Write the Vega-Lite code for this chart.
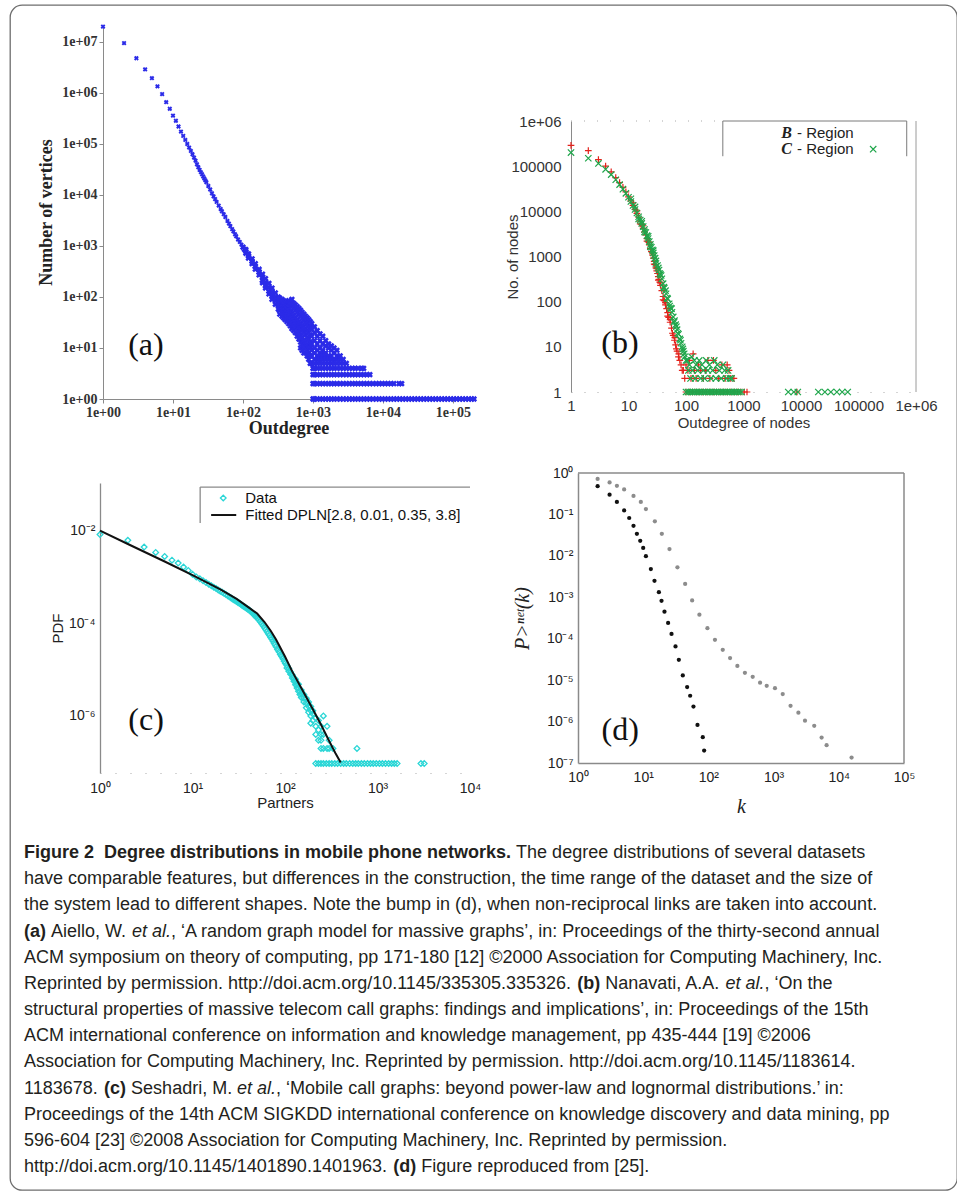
{
"$schema":"https://vega.github.io/schema/vega-lite/v6.json",
"width":947,"height":1185,
"autosize":{"type":"none"},
"padding":{"left":10,"top":5,"right":0,"bottom":5},
"background":"#ffffff",
"config":{"view":{"stroke":"#6e6e6e","strokeWidth":1.3,"cornerRadius":12},"axis":{"grid":false}},
"datasets":{
"a":[
{"x":1,"y":20000000},{"x":2,"y":9500000},{"x":3,"y":4800000},{"x":4,"y":2900000},{"x":5,"y":1950000},{"x":6,"y":1350000},{"x":7,"y":950000},{"x":8,"y":660000},{"x":9,"y":490000},{"x":10,"y":360000},{"x":11,"y":285000},{"x":12,"y":220000},{"x":13,"y":175000},{"x":14,"y":144000},{"x":15,"y":120000},{"x":16,"y":100000},{"x":17,"y":85000},{"x":18,"y":73000},{"x":19,"y":63000},{"x":20,"y":54000},{"x":21,"y":47000},{"x":22,"y":40000},{"x":23,"y":35000},{"x":24,"y":31000},{"x":25,"y":28000},{"x":26,"y":25500},{"x":27,"y":23000},{"x":28,"y":21000},{"x":29,"y":19300},{"x":30,"y":17800},{"x":32,"y":15000},{"x":34,"y":12800},{"x":36,"y":10800},{"x":38,"y":9400},{"x":40,"y":8300},{"x":42,"y":7300},{"x":45,"y":6200},{"x":48,"y":5300},{"x":50,"y":4800},{"x":53,"y":4200},{"x":56,"y":3700},{"x":60,"y":3100},{"x":63,"y":2750},{"x":66,"y":2450},{"x":70,"y":2140},{"x":73,"y":1930},{"x":77,"y":1700},{"x":80,"y":1550},{"x":85,"y":1340},{"x":90,"y":1200},{"x":95,"y":1060},{"x":100,"y":950},{"x":105,"y":860},
{"x":110,"y":780},{"x":110,"y":850},{"x":110,"y":720},
{"x":120,"y":640},{"x":120,"y":700},{"x":120,"y":580},
{"x":135,"y":500},{"x":135,"y":560},{"x":135,"y":450},
{"x":150,"y":400},{"x":150,"y":450},{"x":150,"y":350},
{"x":170,"y":310},{"x":170,"y":350},{"x":170,"y":270},
{"x":190,"y":245},{"x":190,"y":280},{"x":190,"y":210},{"x":190,"y":190},
{"x":210,"y":195},{"x":210,"y":230},{"x":210,"y":165},{"x":210,"y":150},
{"x":235,"y":155},{"x":235,"y":185},{"x":235,"y":130},{"x":235,"y":115},
{"x":260,"y":125},{"x":260,"y":150},{"x":260,"y":105},{"x":260,"y":90},
{"x":290,"y":100},{"x":290,"y":120},{"x":290,"y":85},{"x":290,"y":72},
{"x":320,"y":85},{"x":320,"y":100},{"x":320,"y":70},{"x":320,"y":58},
{"x":335,"y":80},{"x":335,"y":95},{"x":335,"y":66},{"x":335,"y":55},{"x":335,"y":46},
{"x":360,"y":75},{"x":360,"y":90},{"x":360,"y":62},{"x":360,"y":50},{"x":360,"y":42},
{"x":380,"y":70},{"x":380,"y":85},{"x":380,"y":58},{"x":380,"y":48},{"x":380,"y":39},
{"x":400,"y":65},{"x":400,"y":80},{"x":400,"y":55},{"x":400,"y":45},{"x":400,"y":36},
{"x":425,"y":60},{"x":425,"y":76},{"x":425,"y":50},{"x":425,"y":40},{"x":425,"y":33},
{"x":450,"y":55},{"x":450,"y":72},{"x":450,"y":45},{"x":450,"y":36},{"x":450,"y":30},{"x":450,"y":85},
{"x":475,"y":52},{"x":475,"y":68},{"x":475,"y":42},{"x":475,"y":33},{"x":475,"y":27},{"x":475,"y":80},
{"x":500,"y":48},{"x":500,"y":65},{"x":500,"y":38},{"x":500,"y":30},{"x":500,"y":24},{"x":500,"y":90},
{"x":530,"y":44},{"x":530,"y":60},{"x":530,"y":35},{"x":530,"y":27},{"x":530,"y":22},{"x":530,"y":75},
{"x":560,"y":40},{"x":560,"y":55},{"x":560,"y":32},{"x":560,"y":25},{"x":560,"y":20},{"x":560,"y":70},
{"x":595,"y":36},{"x":595,"y":50},{"x":595,"y":29},{"x":595,"y":22},{"x":595,"y":17},{"x":595,"y":65},
{"x":630,"y":33},{"x":630,"y":45},{"x":630,"y":26},{"x":630,"y":20},{"x":630,"y":15},{"x":630,"y":60},
{"x":665,"y":30},{"x":665,"y":42},{"x":665,"y":24},{"x":665,"y":18},{"x":665,"y":13},{"x":665,"y":10},{"x":665,"y":55},
{"x":700,"y":28},{"x":700,"y":38},{"x":700,"y":22},{"x":700,"y":16},{"x":700,"y":12},{"x":700,"y":9},{"x":700,"y":50},
{"x":740,"y":26},{"x":740,"y":35},{"x":740,"y":20},{"x":740,"y":14},{"x":740,"y":11},{"x":740,"y":8},{"x":740,"y":46},
{"x":780,"y":24},{"x":780,"y":32},{"x":780,"y":18},{"x":780,"y":13},{"x":780,"y":10},{"x":780,"y":8},{"x":780,"y":42},
{"x":825,"y":22},{"x":825,"y":30},{"x":825,"y":16},{"x":825,"y":12},{"x":825,"y":9},{"x":825,"y":7},{"x":825,"y":39},
{"x":870,"y":20},{"x":870,"y":27},{"x":870,"y":15},{"x":870,"y":11},{"x":870,"y":8},{"x":870,"y":6},{"x":870,"y":36},
{"x":915,"y":18},{"x":915,"y":25},{"x":915,"y":13},{"x":915,"y":10},{"x":915,"y":7},{"x":915,"y":5},{"x":915,"y":33},
{"x":960,"y":17},{"x":960,"y":23},{"x":960,"y":12},{"x":960,"y":9},{"x":960,"y":7},{"x":960,"y":5},{"x":960,"y":30},
{"x":1000,"y":1},{"x":1000,"y":2},{"x":1000,"y":3},{"x":1000,"y":4},
{"x":1050,"y":14},{"x":1050,"y":20},{"x":1050,"y":10},{"x":1050,"y":8},{"x":1050,"y":6},{"x":1050,"y":5},{"x":1050,"y":4},{"x":1050,"y":3},{"x":1050,"y":2},{"x":1050,"y":1},{"x":1050,"y":26},
{"x":1150,"y":12},{"x":1150,"y":17},{"x":1150,"y":9},{"x":1150,"y":7},{"x":1150,"y":6},{"x":1150,"y":5},{"x":1150,"y":4},{"x":1150,"y":3},{"x":1150,"y":2},{"x":1150,"y":1},{"x":1150,"y":22},
{"x":1260,"y":10},{"x":1260,"y":14},{"x":1260,"y":8},{"x":1260,"y":7},{"x":1260,"y":6},{"x":1260,"y":5},{"x":1260,"y":4},{"x":1260,"y":3},{"x":1260,"y":2},{"x":1260,"y":1},{"x":1260,"y":19},
{"x":1380,"y":9},{"x":1380,"y":12},{"x":1380,"y":8},{"x":1380,"y":7},{"x":1380,"y":6},{"x":1380,"y":5},{"x":1380,"y":4},{"x":1380,"y":3},{"x":1380,"y":2},{"x":1380,"y":1},{"x":1380,"y":17},
{"x":1520,"y":8},{"x":1520,"y":11},{"x":1520,"y":7},{"x":1520,"y":6},{"x":1520,"y":5},{"x":1520,"y":4},{"x":1520,"y":3},{"x":1520,"y":2},{"x":1520,"y":1},{"x":1520,"y":14},
{"x":1670,"y":7},{"x":1670,"y":10},{"x":1670,"y":6},{"x":1670,"y":5},{"x":1670,"y":4},{"x":1670,"y":3},{"x":1670,"y":2},{"x":1670,"y":1},{"x":1670,"y":12},
{"x":1830,"y":7},{"x":1830,"y":9},{"x":1830,"y":6},{"x":1830,"y":5},{"x":1830,"y":4},{"x":1830,"y":3},{"x":1830,"y":2},{"x":1830,"y":1},{"x":1830,"y":11},
{"x":2000,"y":6},{"x":2000,"y":8},{"x":2000,"y":5},{"x":2000,"y":4},{"x":2000,"y":3},{"x":2000,"y":2},{"x":2000,"y":1},{"x":2000,"y":10},
{"x":2200,"y":6},{"x":2200,"y":7},{"x":2200,"y":5},{"x":2200,"y":4},{"x":2200,"y":3},{"x":2200,"y":2},{"x":2200,"y":1},{"x":2200,"y":9},
{"x":2450,"y":6},{"x":2450,"y":7},{"x":2450,"y":5},{"x":2450,"y":4},{"x":2450,"y":3},{"x":2450,"y":2},{"x":2450,"y":1},
{"x":2700,"y":5},{"x":2700,"y":6},{"x":2700,"y":4},{"x":2700,"y":3},{"x":2700,"y":2},{"x":2700,"y":1},
{"x":3000,"y":5},{"x":3000,"y":4},{"x":3000,"y":3},{"x":3000,"y":2},{"x":3000,"y":1},
{"x":3300,"y":4},{"x":3300,"y":3},{"x":3300,"y":2},{"x":3300,"y":1},
{"x":3650,"y":1},{"x":4000,"y":1},{"x":4400,"y":1},{"x":4850,"y":1},{"x":5350,"y":1},{"x":5900,"y":1},{"x":6500,"y":1},{"x":7200,"y":1},{"x":8000,"y":1},{"x":8800,"y":1},{"x":9700,"y":1},{"x":10700,"y":1},{"x":11800,"y":1},{"x":13000,"y":1},{"x":14300,"y":1},{"x":15800,"y":1},{"x":17400,"y":1},{"x":19200,"y":1},{"x":21200,"y":1},{"x":23400,"y":1},{"x":25800,"y":1},{"x":28500,"y":1},{"x":31500,"y":1},{"x":34700,"y":1},{"x":38300,"y":1},{"x":42300,"y":1},{"x":46700,"y":1},{"x":51500,"y":1},{"x":56800,"y":1},{"x":62700,"y":1},{"x":69200,"y":1},{"x":76300,"y":1},{"x":84200,"y":1},{"x":93000,"y":1},{"x":102500,"y":1},{"x":113000,"y":1},{"x":125000,"y":1},{"x":138000,"y":1},{"x":152000,"y":1},{"x":168000,"y":1},{"x":185000,"y":1},{"x":200000,"y":1},
{"x":3650,"y":2},{"x":4000,"y":2},{"x":4400,"y":2},{"x":4850,"y":2},{"x":5350,"y":2},{"x":5900,"y":2},{"x":6500,"y":2},{"x":7200,"y":2},{"x":8000,"y":2},{"x":8800,"y":2},{"x":9700,"y":2},{"x":10700,"y":2},{"x":11800,"y":2},{"x":13000,"y":2},{"x":14300,"y":2},{"x":17000,"y":2},{"x":18500,"y":2},
{"x":3650,"y":3},{"x":4000,"y":3},{"x":4400,"y":3},{"x":4850,"y":3},{"x":5350,"y":3},{"x":5900,"y":3},{"x":6500,"y":3},
{"x":3650,"y":4},{"x":4000,"y":4},{"x":4400,"y":4},{"x":5000,"y":4},{"x":5300,"y":4}
],
"b":[
{"x":1,"y":290000,"s":"B"},{"x":2,"y":220000,"s":"B"},{"x":3,"y":140000,"s":"B"},{"x":4,"y":100000,"s":"B"},{"x":5,"y":75000,"s":"B"},{"x":6,"y":56000,"s":"B"},{"x":7,"y":43000,"s":"B"},{"x":8,"y":34000,"s":"B"},{"x":9,"y":27000,"s":"B"},{"x":10,"y":21000,"s":"B"},{"x":11,"y":17000,"s":"B"},{"x":12,"y":13500,"s":"B"},{"x":13,"y":11000,"s":"B"},{"x":14,"y":9000,"s":"B"},{"x":15,"y":7400,"s":"B"},{"x":16,"y":6100,"s":"B"},{"x":17,"y":5100,"s":"B"},{"x":18,"y":4200,"s":"B"},{"x":19,"y":3500,"s":"B"},{"x":20,"y":3000,"s":"B"},{"x":21,"y":2500,"s":"B"},{"x":22,"y":2100,"s":"B"},{"x":23,"y":1800,"s":"B"},{"x":24,"y":1500,"s":"B"},{"x":25,"y":1280,"s":"B"},{"x":26,"y":1080,"s":"B"},{"x":27,"y":920,"s":"B"},{"x":28,"y":780,"s":"B"},{"x":29,"y":660,"s":"B"},{"x":30,"y":560,"s":"B"},{"x":31,"y":480,"s":"B"},{"x":32,"y":420,"s":"B"},{"x":33,"y":360,"s":"B"},{"x":34,"y":310,"s":"B"},{"x":35,"y":270,"s":"B"},{"x":36,"y":230,"s":"B"},{"x":38,"y":175,"s":"B"},{"x":40,"y":130,"s":"B"},{"x":42,"y":105,"s":"B"},{"x":44,"y":85,"s":"B"},{"x":46,"y":70,"s":"B"},{"x":48,"y":57,"s":"B"},{"x":50,"y":45,"s":"B"},{"x":53,"y":35,"s":"B"},{"x":56,"y":26,"s":"B"},{"x":60,"y":18,"s":"B"},{"x":63,"y":14,"s":"B"},{"x":66,"y":11,"s":"B"},{"x":70,"y":8,"s":"B"},{"x":74,"y":6,"s":"B"},{"x":78,"y":5,"s":"B"},{"x":82,"y":4,"s":"B"},{"x":86,"y":3,"s":"B"},{"x":90,"y":3,"s":"B"},{"x":95,"y":2,"s":"B"},
{"x":12,"y":15500,"s":"B"},{"x":14,"y":10200,"s":"B"},{"x":16,"y":5300,"s":"B"},{"x":18,"y":4800,"s":"B"},{"x":21,"y":2200,"s":"B"},{"x":23,"y":2050,"s":"B"},{"x":26,"y":1200,"s":"B"},{"x":28,"y":680,"s":"B"},{"x":31,"y":540,"s":"B"},{"x":33,"y":300,"s":"B"},{"x":36,"y":260,"s":"B"},{"x":40,"y":110,"s":"B"},{"x":44,"y":95,"s":"B"},{"x":48,"y":48,"s":"B"},{"x":53,"y":40,"s":"B"},{"x":58,"y":20,"s":"B"},{"x":64,"y":16,"s":"B"},{"x":68,"y":9,"s":"B"},{"x":75,"y":7,"s":"B"},
{"x":100,"y":4,"s":"B"},{"x":108,"y":3,"s":"B"},{"x":115,"y":5,"s":"B"},{"x":122,"y":2,"s":"B"},{"x":133,"y":7,"s":"B"},{"x":140,"y":3,"s":"B"},{"x":150,"y":2,"s":"B"},{"x":165,"y":4,"s":"B"},{"x":180,"y":3,"s":"B"},{"x":200,"y":2,"s":"B"},{"x":220,"y":3,"s":"B"},{"x":240,"y":5,"s":"B"},{"x":260,"y":2,"s":"B"},{"x":300,"y":5,"s":"B"},{"x":330,"y":3,"s":"B"},{"x":370,"y":2,"s":"B"},{"x":420,"y":4,"s":"B"},{"x":480,"y":2,"s":"B"},{"x":520,"y":4,"s":"B"},{"x":560,"y":3,"s":"B"},{"x":600,"y":2,"s":"B"},{"x":680,"y":2,"s":"B"},
{"x":100,"y":1,"s":"B"},{"x":115,"y":1,"s":"B"},{"x":130,"y":1,"s":"B"},{"x":150,"y":1,"s":"B"},{"x":170,"y":1,"s":"B"},{"x":195,"y":1,"s":"B"},{"x":225,"y":1,"s":"B"},{"x":260,"y":1,"s":"B"},{"x":300,"y":1,"s":"B"},{"x":340,"y":1,"s":"B"},{"x":390,"y":1,"s":"B"},{"x":450,"y":1,"s":"B"},{"x":520,"y":1,"s":"B"},{"x":600,"y":1,"s":"B"},{"x":690,"y":1,"s":"B"},{"x":790,"y":1,"s":"B"},{"x":900,"y":1,"s":"B"},{"x":1030,"y":1,"s":"B"},{"x":1150,"y":1,"s":"B"},{"x":8500,"y":1,"s":"B"},
{"x":1,"y":200000,"s":"C"},{"x":2,"y":150000,"s":"C"},{"x":3,"y":115000,"s":"C"},{"x":4,"y":85000,"s":"C"},{"x":5,"y":65000,"s":"C"},{"x":6,"y":50000,"s":"C"},{"x":7,"y":39000,"s":"C"},{"x":8,"y":31000,"s":"C"},{"x":9,"y":25000,"s":"C"},{"x":10,"y":20500,"s":"C"},{"x":11,"y":16500,"s":"C"},{"x":12,"y":13500,"s":"C"},{"x":13,"y":11000,"s":"C"},{"x":14,"y":9200,"s":"C"},{"x":15,"y":7600,"s":"C"},{"x":16,"y":6400,"s":"C"},{"x":17,"y":5400,"s":"C"},{"x":18,"y":4600,"s":"C"},{"x":19,"y":3950,"s":"C"},{"x":20,"y":3400,"s":"C"},{"x":21,"y":2900,"s":"C"},{"x":22,"y":2500,"s":"C"},{"x":23,"y":2150,"s":"C"},{"x":24,"y":1850,"s":"C"},{"x":25,"y":1600,"s":"C"},{"x":26,"y":1400,"s":"C"},{"x":27,"y":1200,"s":"C"},{"x":28,"y":1050,"s":"C"},{"x":29,"y":920,"s":"C"},{"x":30,"y":800,"s":"C"},{"x":32,"y":630,"s":"C"},{"x":34,"y":500,"s":"C"},{"x":36,"y":400,"s":"C"},{"x":38,"y":320,"s":"C"},{"x":40,"y":250,"s":"C"},{"x":42,"y":200,"s":"C"},{"x":45,"y":150,"s":"C"},{"x":48,"y":115,"s":"C"},{"x":51,"y":90,"s":"C"},{"x":54,"y":72,"s":"C"},{"x":57,"y":58,"s":"C"},{"x":60,"y":46,"s":"C"},{"x":63,"y":38,"s":"C"},{"x":66,"y":31,"s":"C"},{"x":70,"y":24,"s":"C"},{"x":74,"y":19,"s":"C"},{"x":78,"y":15,"s":"C"},{"x":82,"y":12,"s":"C"},{"x":86,"y":10,"s":"C"},{"x":90,"y":8,"s":"C"},{"x":95,"y":6,"s":"C"},{"x":100,"y":5,"s":"C"},
{"x":11,"y":19000,"s":"C"},{"x":13,"y":12500,"s":"C"},{"x":15,"y":6800,"s":"C"},{"x":17,"y":6000,"s":"C"},{"x":19,"y":3500,"s":"C"},{"x":22,"y":2800,"s":"C"},{"x":24,"y":1650,"s":"C"},{"x":27,"y":1350,"s":"C"},{"x":30,"y":700,"s":"C"},{"x":33,"y":560,"s":"C"},{"x":35,"y":420,"s":"C"},{"x":37,"y":380,"s":"C"},{"x":41,"y":210,"s":"C"},{"x":44,"y":175,"s":"C"},{"x":47,"y":120,"s":"C"},{"x":52,"y":80,"s":"C"},{"x":56,"y":70,"s":"C"},{"x":62,"y":35,"s":"C"},{"x":68,"y":28,"s":"C"},{"x":72,"y":20,"s":"C"},{"x":80,"y":14,"s":"C"},{"x":88,"y":9,"s":"C"},{"x":93,"y":7,"s":"C"},
{"x":105,"y":5,"s":"C"},{"x":110,"y":3,"s":"C"},{"x":115,"y":4,"s":"C"},{"x":120,"y":2,"s":"C"},{"x":125,"y":6,"s":"C"},{"x":130,"y":3,"s":"C"},{"x":140,"y":5,"s":"C"},{"x":145,"y":2,"s":"C"},{"x":150,"y":4,"s":"C"},{"x":160,"y":3,"s":"C"},{"x":170,"y":5,"s":"C"},{"x":180,"y":2,"s":"C"},{"x":190,"y":4,"s":"C"},{"x":200,"y":3,"s":"C"},{"x":210,"y":2,"s":"C"},{"x":225,"y":5,"s":"C"},{"x":240,"y":3,"s":"C"},{"x":255,"y":4,"s":"C"},{"x":270,"y":2,"s":"C"},{"x":290,"y":3,"s":"C"},{"x":310,"y":5,"s":"C"},{"x":330,"y":2,"s":"C"},{"x":350,"y":4,"s":"C"},{"x":380,"y":3,"s":"C"},{"x":410,"y":2,"s":"C"},{"x":440,"y":4,"s":"C"},{"x":470,"y":3,"s":"C"},{"x":500,"y":2,"s":"C"},{"x":540,"y":3,"s":"C"},{"x":580,"y":2,"s":"C"},{"x":620,"y":2,"s":"C"},
{"x":100,"y":1,"s":"C"},{"x":108,"y":1,"s":"C"},{"x":116,"y":1,"s":"C"},{"x":125,"y":1,"s":"C"},{"x":135,"y":1,"s":"C"},{"x":145,"y":1,"s":"C"},{"x":156,"y":1,"s":"C"},{"x":168,"y":1,"s":"C"},{"x":181,"y":1,"s":"C"},{"x":195,"y":1,"s":"C"},{"x":210,"y":1,"s":"C"},{"x":226,"y":1,"s":"C"},{"x":243,"y":1,"s":"C"},{"x":262,"y":1,"s":"C"},{"x":282,"y":1,"s":"C"},{"x":304,"y":1,"s":"C"},{"x":327,"y":1,"s":"C"},{"x":352,"y":1,"s":"C"},{"x":379,"y":1,"s":"C"},{"x":408,"y":1,"s":"C"},{"x":440,"y":1,"s":"C"},{"x":474,"y":1,"s":"C"},{"x":510,"y":1,"s":"C"},{"x":550,"y":1,"s":"C"},{"x":590,"y":1,"s":"C"},{"x":630,"y":1,"s":"C"},{"x":680,"y":1,"s":"C"},{"x":730,"y":1,"s":"C"},{"x":790,"y":1,"s":"C"},{"x":850,"y":1,"s":"C"},{"x":920,"y":1,"s":"C"},{"x":6000,"y":1,"s":"C"},{"x":7500,"y":1,"s":"C"},{"x":8800,"y":1,"s":"C"},{"x":20000,"y":1,"s":"C"},{"x":26000,"y":1,"s":"C"},{"x":33000,"y":1,"s":"C"},{"x":42000,"y":1,"s":"C"},{"x":52000,"y":1,"s":"C"},{"x":65000,"y":1,"s":"C"}
],
"c":[
{"x":1,"y":0.008},{"x":2,"y":0.006},{"x":3,"y":0.0043},{"x":4,"y":0.0033},{"x":5,"y":0.0027},{"x":6,"y":0.00225},{"x":7,"y":0.00195},{"x":8,"y":0.0016},{"x":9,"y":0.00135},{"x":10,"y":0.00112},{"x":11,"y":0.00098},{"x":12,"y":0.00089},{"x":13,"y":0.00081},{"x":14,"y":0.00074},{"x":15,"y":0.00068},{"x":16,"y":0.00063},{"x":17,"y":0.00059},{"x":18,"y":0.00055},{"x":19,"y":0.00051},{"x":20,"y":0.00048},{"x":21,"y":0.00046},{"x":22,"y":0.00043},{"x":23,"y":0.00041},{"x":24,"y":0.000385},{"x":25,"y":0.000365},{"x":26,"y":0.00035},{"x":27,"y":0.00033},{"x":28,"y":0.000315},{"x":29,"y":0.0003},{"x":30,"y":0.00029},{"x":31,"y":0.000275},{"x":32,"y":0.000265},{"x":33,"y":0.000255},{"x":34,"y":0.000245},{"x":35,"y":0.000235},{"x":36,"y":0.000225},{"x":37,"y":0.000218},{"x":38,"y":0.00021},{"x":39,"y":0.000203},{"x":40,"y":0.000196},{"x":41,"y":0.00019},{"x":42,"y":0.000182},{"x":43,"y":0.000175},{"x":44,"y":0.000168},{"x":45,"y":0.00016},{"x":46,"y":0.000153},{"x":47,"y":0.000147},{"x":48,"y":0.00014},{"x":49,"y":0.000134},{"x":50,"y":0.000128},{"x":52,"y":0.000117},{"x":54,"y":0.000106},{"x":56,"y":0.000096},{"x":58,"y":0.000087},{"x":60,"y":0.000079},{"x":62,"y":0.000072},{"x":64,"y":0.000065},{"x":66,"y":0.000059},{"x":68,"y":0.000054},{"x":70,"y":0.000049},{"x":72,"y":0.000045},{"x":74,"y":0.000041},{"x":76,"y":0.000037},{"x":78,"y":0.000034},{"x":80,"y":0.000031},{"x":83,"y":0.000027},{"x":86,"y":0.000024},{"x":89,"y":0.000021},{"x":92,"y":0.000019},{"x":95,"y":0.000017},{"x":98,"y":0.000015},{"x":101,"y":0.0000135},
{"x":105,"y":0.0000122},{"x":105,"y":0.0000108},{"x":110,"y":0.0000105},{"x":110,"y":0.0000092},{"x":115,"y":0.0000088},{"x":115,"y":0.0000079},{"x":120,"y":0.0000076},{"x":120,"y":0.0000066},{"x":125,"y":0.0000064},{"x":125,"y":0.0000056},{"x":130,"y":0.0000055},{"x":130,"y":0.0000047},{"x":130,"y":0.0000062},{"x":135,"y":0.0000047},{"x":135,"y":0.000004},{"x":140,"y":0.000004},{"x":140,"y":0.0000034},{"x":140,"y":0.0000048},{"x":145,"y":0.0000034},{"x":145,"y":0.0000029},{"x":150,"y":0.000003},{"x":150,"y":0.0000025},{"x":150,"y":0.0000036},{"x":160,"y":0.0000024},{"x":160,"y":0.000002},{"x":160,"y":0.0000029},{"x":170,"y":0.0000019},{"x":170,"y":0.0000015},{"x":170,"y":0.0000024},{"x":180,"y":0.0000016},{"x":180,"y":0.0000012},{"x":180,"y":0.000002},{"x":190,"y":0.0000013},{"x":190,"y":0.000001},{"x":190,"y":0.0000016},{"x":190,"y":0.0000007},{"x":200,"y":0.0000011},{"x":200,"y":0.0000008},{"x":200,"y":0.0000013},{"x":215,"y":0.0000009},{"x":215,"y":0.0000006},{"x":215,"y":0.0000004},{"x":230,"y":0.0000008},{"x":230,"y":0.0000005},{"x":230,"y":0.0000003},{"x":245,"y":0.0000006},{"x":245,"y":0.0000004},{"x":245,"y":0.0000003},{"x":245,"y":0.0000002},{"x":260,"y":0.000001},{"x":260,"y":0.0000004},{"x":260,"y":0.0000002},{"x":285,"y":0.0000006},{"x":285,"y":0.0000002},{"x":300,"y":0.0000003},{"x":300,"y":0.0000002},{"x":330,"y":0.0000002},{"x":600,"y":0.0000002},
{"x":215,"y":0.000000095},{"x":230,"y":0.000000095},{"x":245,"y":0.000000095},{"x":260,"y":0.000000095},{"x":280,"y":0.000000095},{"x":300,"y":0.000000095},{"x":320,"y":0.000000095},{"x":345,"y":0.000000095},{"x":370,"y":0.000000095},{"x":400,"y":0.000000095},{"x":430,"y":0.000000095},{"x":460,"y":0.000000095},{"x":500,"y":0.000000095},{"x":540,"y":0.000000095},{"x":580,"y":0.000000095},{"x":620,"y":0.000000095},{"x":670,"y":0.000000095},{"x":720,"y":0.000000095},{"x":780,"y":0.000000095},{"x":840,"y":0.000000095},{"x":900,"y":0.000000095},{"x":970,"y":0.000000095},{"x":1050,"y":0.000000095},{"x":1130,"y":0.000000095},{"x":1220,"y":0.000000095},{"x":1320,"y":0.000000095},{"x":1420,"y":0.000000095},{"x":1520,"y":0.000000095},{"x":1630,"y":0.000000095},{"x":2950,"y":0.000000095},{"x":3200,"y":0.000000095}
],
"cfit":[
{"x":1,"y":0.0097},{"x":2,"y":0.005},{"x":5,"y":0.0021},{"x":10,"y":0.00107},{"x":20,"y":0.00053},{"x":30,"y":0.00033},{"x":40,"y":0.00022},{"x":50,"y":0.00016},{"x":60,"y":0.000105},{"x":70,"y":0.000068},{"x":80,"y":0.000044},{"x":100,"y":0.000019},{"x":120,"y":0.000009},{"x":150,"y":0.000004},{"x":200,"y":0.0000014},{"x":250,"y":0.0000006},{"x":300,"y":0.00000029},{"x":350,"y":0.00000016},{"x":400,"y":0.0000001}
],
"d":[
{"x":2,"y":0.48,"s":"reciprocal"},{"x":3.05,"y":0.3,"s":"reciprocal"},{"x":3.95,"y":0.2,"s":"reciprocal"},{"x":5.1,"y":0.125,"s":"reciprocal"},{"x":6.1,"y":0.082,"s":"reciprocal"},{"x":7.1,"y":0.053,"s":"reciprocal"},{"x":8,"y":0.034,"s":"reciprocal"},{"x":9,"y":0.023,"s":"reciprocal"},{"x":10,"y":0.0155,"s":"reciprocal"},{"x":11,"y":0.0098,"s":"reciprocal"},{"x":13.1,"y":0.0048,"s":"reciprocal"},{"x":14.9,"y":0.0025,"s":"reciprocal"},{"x":17.4,"y":0.00133,"s":"reciprocal"},{"x":19.1,"y":0.00082,"s":"reciprocal"},{"x":21.2,"y":0.00045,"s":"reciprocal"},{"x":24.1,"y":0.00024,"s":"reciprocal"},{"x":27.2,"y":0.00013,"s":"reciprocal"},{"x":31.3,"y":0.000065,"s":"reciprocal"},{"x":35.2,"y":0.000031,"s":"reciprocal"},{"x":40.5,"y":0.000013,"s":"reciprocal"},{"x":47.2,"y":0.0000068,"s":"reciprocal"},{"x":52.5,"y":0.0000042,"s":"reciprocal"},{"x":59,"y":0.0000023,"s":"reciprocal"},{"x":68,"y":0.00000083,"s":"reciprocal"},{"x":82,"y":0.00000042,"s":"reciprocal"},{"x":86,"y":0.0000002,"s":"reciprocal"},
{"x":2,"y":0.72,"s":"all"},{"x":3.05,"y":0.59,"s":"all"},{"x":3.95,"y":0.49,"s":"all"},{"x":5.1,"y":0.4,"s":"all"},{"x":7.1,"y":0.28,"s":"all"},{"x":9.2,"y":0.2,"s":"all"},{"x":11,"y":0.135,"s":"all"},{"x":15.1,"y":0.068,"s":"all"},{"x":19.3,"y":0.034,"s":"all"},{"x":25.3,"y":0.0146,"s":"all"},{"x":33.5,"y":0.0053,"s":"all"},{"x":44,"y":0.0021,"s":"all"},{"x":56.3,"y":0.00084,"s":"all"},{"x":72.8,"y":0.00038,"s":"all"},{"x":96.6,"y":0.00018,"s":"all"},{"x":126,"y":0.000094,"s":"all"},{"x":166,"y":0.000054,"s":"all"},{"x":215,"y":0.000034,"s":"all"},{"x":278,"y":0.000022,"s":"all"},{"x":363,"y":0.000015,"s":"all"},{"x":478,"y":0.000012,"s":"all"},{"x":620,"y":0.0000087,"s":"all"},{"x":784,"y":0.0000073,"s":"all"},{"x":1050,"y":0.0000064,"s":"all"},{"x":1380,"y":0.0000046,"s":"all"},{"x":1820,"y":0.0000024,"s":"all"},{"x":2400,"y":0.00000164,"s":"all"},{"x":3030,"y":0.00000105,"s":"all"},{"x":4200,"y":0.00000079,"s":"all"},{"x":5450,"y":0.00000041,"s":"all"},{"x":6500,"y":0.00000027,"s":"all"},{"x":15700,"y":0.000000135,"s":"all"}
],
"caption":[
{"seg":0,"line":1,"role":"head","text":"Figure 2\u00a0 Degree distributions in mobile phone networks."},
{"seg":1,"line":1,"role":"body","text":"The degree distributions of several datasets"},
{"seg":2,"line":2,"role":"body","text":"have comparable features, but differences in the construction, the time range of the dataset and the size of"},
{"seg":3,"line":3,"role":"body","text":"the system lead to different shapes. Note the bump in (d), when non-reciprocal links are taken into account."},
{"seg":4,"line":4,"role":"tag","text":"(a)"},
{"seg":5,"line":4,"role":"body","text":"Aiello, W."},
{"seg":6,"line":4,"role":"etal","text":"et al."},
{"seg":7,"line":4,"role":"body","text":", ‘A random graph model for massive graphs’, in: Proceedings of the thirty-second annual"},
{"seg":8,"line":5,"role":"body","text":"ACM symposium on theory of computing, pp 171-180 [12] ©2000 Association for Computing Machinery, Inc."},
{"seg":9,"line":6,"role":"body","text":"Reprinted by permission. http://doi.acm.org/10.1145/335305.335326."},
{"seg":10,"line":6,"role":"tag","text":"(b)"},
{"seg":11,"line":6,"role":"body","text":"Nanavati, A.A."},
{"seg":12,"line":6,"role":"etal","text":"et al."},
{"seg":13,"line":6,"role":"body","text":", ‘On the"},
{"seg":14,"line":7,"role":"body","text":"structural properties of massive telecom call graphs: findings and implications’, in: Proceedings of the 15th"},
{"seg":15,"line":8,"role":"body","text":"ACM international conference on information and knowledge management, pp 435-444 [19] ©2006"},
{"seg":16,"line":9,"role":"body","text":"Association for Computing Machinery, Inc. Reprinted by permission. http://doi.acm.org/10.1145/1183614."},
{"seg":17,"line":10,"role":"body","text":"1183678."},
{"seg":18,"line":10,"role":"tag","text":"(c)"},
{"seg":19,"line":10,"role":"body","text":"Seshadri, M."},
{"seg":20,"line":10,"role":"etal","text":"et al."},
{"seg":21,"line":10,"role":"body","text":", ‘Mobile call graphs: beyond power-law and lognormal distributions.’ in:"},
{"seg":22,"line":11,"role":"body","text":"Proceedings of the 14th ACM SIGKDD international conference on knowledge discovery and data mining, pp"},
{"seg":23,"line":12,"role":"body","text":"596-604 [23] ©2008 Association for Computing Machinery, Inc. Reprinted by permission."},
{"seg":24,"line":13,"role":"body","text":"http://doi.acm.org/10.1145/1401890.1401963."},
{"seg":25,"line":13,"role":"tag","text":"(d)"},
{"seg":26,"line":13,"role":"body","text":"Figure reproduced from [25]."}
]
},
"resolve":{"scale":{"x":"independent","y":"independent"},"axis":{"x":"independent","y":"independent"}},
"layer":[
 {"data":{"name":"a"},"transform":[{"filter":"datum.x < 100"}],"mark":{"type":"point","shape":"cross","angle":45,"size":24,"filled":true,"color":"#2b2be8","opacity":1},
  "encoding":{
   "x":{"field":"x","type":"quantitative","scale":{"type":"log","domain":[1,200000],"range":[93,464],"nice":false},
    "axis":{"orient":"bottom","offset":-791,"values":[1,10,100,1000,10000,100000],"labelExpr":"'1e+0' + round(log(datum.value)/LN10)","labelFont":"Liberation Serif","labelFontWeight":"bold","labelFontSize":14,"labelColor":"#333333","labelPadding":2,"labelFlush":false,"labelOverlap":false,"tickSize":4,"tickColor":"#8a8a8a","domainColor":"#8a8a8a","title":"Outdegree","titleFont":"Liberation Serif","titleFontWeight":"bold","titleFontSize":18,"titleColor":"#222222","titlePadding":0}},
   "y":{"field":"y","type":"quantitative","scale":{"type":"log","domain":[1,21500000],"range":[394,20],"nice":false},
    "axis":{"orient":"left","offset":-93,"values":[1,10,100,1000,10000,100000,1000000,10000000],"labelExpr":"'1e+0' + round(log(datum.value)/LN10)","labelFont":"Liberation Serif","labelFontWeight":"bold","labelFontSize":14,"labelColor":"#333333","labelPadding":2,"labelFlush":false,"labelOverlap":false,"tickSize":4,"tickColor":"#8a8a8a","domainColor":"#8a8a8a","title":"Number of vertices","titleFont":"Liberation Serif","titleFontWeight":"bold","titleFontSize":18,"titleColor":"#222222","titlePadding":6}}
  }},
 {"data":{"name":"a"},"transform":[{"filter":"datum.x >= 100"}],"mark":{"type":"point","shape":"cross","angle":45,"size":40,"filled":true,"color":"#2b2be8","opacity":1},
  "encoding":{
   "x":{"field":"x","type":"quantitative","scale":{"type":"log","domain":[1,200000],"range":[93,464],"nice":false},"axis":null},
   "y":{"field":"y","type":"quantitative","scale":{"type":"log","domain":[1,21500000],"range":[394,20],"nice":false},"axis":null}}},
 {"data":{"values":[{}]},"mark":{"type":"text","text":"(a)","font":"Liberation Serif","fontSize":32,"align":"center","baseline":"middle","color":"#111111"},
  "encoding":{"x":{"datum":4.1,"type":"quantitative","scale":{"type":"log","domain":[1,200000],"range":[93,464],"nice":false},"axis":null},
   "y":{"datum":11.4,"type":"quantitative","scale":{"type":"log","domain":[1,21500000],"range":[394,20],"nice":false},"axis":null}}},
 {"data":{"name":"b"},"transform":[{"filter":"datum.s == 'B'"}],"mark":{"type":"point","shape":"M-1,0L1,0M0,-1L0,1","size":45,"filled":false,"strokeWidth":1.2,"color":"#e3231c","opacity":1},
  "encoding":{
   "x":{"field":"x","type":"quantitative","scale":{"type":"log","domain":[1,1000000],"range":[561,906],"nice":false},
    "axis":{"orient":"bottom","offset":-798,"values":[1,10,100,1000,10000,100000,1000000],"labelExpr":"datum.value >= 999999 ? '1e+06' : format(datum.value, 'd')","labelFont":"Liberation Sans","labelFontSize":15,"labelColor":"#333333","labelPadding":6,"labelFlush":false,"labelOverlap":false,"tickSize":0,"domainColor":"#aaaaaa","domainDash":[1,12],"title":"Outdegree of nodes","titleFont":"Liberation Sans","titleFontWeight":"normal","titleFontSize":15,"titleColor":"#333333","titlePadding":2}},
   "y":{"field":"y","type":"quantitative","scale":{"type":"log","domain":[1,1000000],"range":[387,116],"nice":false},
    "axis":{"orient":"left","offset":-561,"values":[1,10,100,1000,10000,100000,1000000],"labelExpr":"datum.value >= 999999 ? '1e+06' : format(datum.value, 'd')","labelFont":"Liberation Sans","labelFontSize":15,"labelColor":"#333333","labelPadding":10,"labelFlush":false,"labelOverlap":false,"tickSize":0,"domainColor":"#8a8a8a","title":"No. of nodes","titleFont":"Liberation Sans","titleFontWeight":"normal","titleFontSize":15,"titleColor":"#333333","titlePadding":-10}}
  }},
 {"data":{"name":"b"},"transform":[{"filter":"datum.s == 'C'"}],"mark":{"type":"point","shape":"M-1,-1L1,1M-1,1L1,-1","size":40,"filled":false,"strokeWidth":1.2,"color":"#1fa64b","opacity":1},
  "encoding":{
   "x":{"field":"x","type":"quantitative","scale":{"type":"log","domain":[1,1000000],"range":[561,906],"nice":false},"axis":null},
   "y":{"field":"y","type":"quantitative","scale":{"type":"log","domain":[1,1000000],"range":[387,116],"nice":false},"axis":null}}},
 {"data":{"values":[{}]},"mark":{"type":"rule","color":"#9a9a9a","strokeWidth":1},
  "encoding":{"x":{"datum":1000000,"type":"quantitative","scale":{"type":"log","domain":[1,1000000],"range":[561,906],"nice":false},"axis":null},
   "y":{"datum":1,"type":"quantitative","scale":{"type":"log","domain":[1,1000000],"range":[387,116],"nice":false},"axis":null},"y2":{"datum":1000000}}},
 {"data":{"values":[{}]},"mark":{"type":"rule","color":"#aaaaaa","strokeWidth":1,"strokeDash":[1,12]},
  "encoding":{"x":{"datum":1,"type":"quantitative","scale":{"type":"log","domain":[1,1000000],"range":[561,906],"nice":false},"axis":null},"x2":{"datum":437},
   "y":{"datum":1000000,"type":"quantitative","scale":{"type":"log","domain":[1,1000000],"range":[387,116],"nice":false},"axis":null}}},
 {"data":{"values":[{}]},"mark":{"type":"rule","color":"#7a7a7a","strokeWidth":1},
  "encoding":{"x":{"datum":437,"type":"quantitative","scale":{"type":"log","domain":[1,1000000],"range":[561,906],"nice":false},"axis":null},"x2":{"datum":690000},
   "y":{"datum":1000000,"type":"quantitative","scale":{"type":"log","domain":[1,1000000],"range":[387,116],"nice":false},"axis":null}}},
 {"data":{"values":[{}]},"mark":{"type":"rule","color":"#7a7a7a","strokeWidth":1},
  "encoding":{"x":{"datum":437,"type":"quantitative","scale":{"type":"log","domain":[1,1000000],"range":[561,906],"nice":false},"axis":null},
   "y":{"datum":166000,"type":"quantitative","scale":{"type":"log","domain":[1,1000000],"range":[387,116],"nice":false},"axis":null},"y2":{"datum":1000000}}},
 {"data":{"values":[{}]},"mark":{"type":"rule","color":"#7a7a7a","strokeWidth":1},
  "encoding":{"x":{"datum":690000,"type":"quantitative","scale":{"type":"log","domain":[1,1000000],"range":[561,906],"nice":false},"axis":null},
   "y":{"datum":166000,"type":"quantitative","scale":{"type":"log","domain":[1,1000000],"range":[387,116],"nice":false},"axis":null},"y2":{"datum":1000000}}},
 {"data":{"values":[{}]},"mark":{"type":"text","text":"B","font":"Liberation Serif","fontWeight":"bold","fontStyle":"italic","fontSize":16,"align":"right","baseline":"middle","color":"#222222"},
  "encoding":{"x":{"datum":6970,"type":"quantitative","scale":{"type":"log","domain":[1,1000000],"range":[561,906],"nice":false},"axis":null},
   "y":{"datum":537000,"type":"quantitative","scale":{"type":"log","domain":[1,1000000],"range":[387,116],"nice":false},"axis":null}}},
 {"data":{"values":[{}]},"mark":{"type":"text","text":"C","font":"Liberation Serif","fontWeight":"bold","fontStyle":"italic","fontSize":16,"align":"right","baseline":"middle","color":"#222222"},
  "encoding":{"x":{"datum":6970,"type":"quantitative","scale":{"type":"log","domain":[1,1000000],"range":[561,906],"nice":false},"axis":null},
   "y":{"datum":238000,"type":"quantitative","scale":{"type":"log","domain":[1,1000000],"range":[387,116],"nice":false},"axis":null}}},
 {"data":{"values":[{}]},"mark":{"type":"text","text":"- Region","font":"Liberation Sans","fontSize":15,"align":"left","baseline":"middle","color":"#222222"},
  "encoding":{"x":{"datum":8520,"type":"quantitative","scale":{"type":"log","domain":[1,1000000],"range":[561,906],"nice":false},"axis":null},
   "y":{"datum":537000,"type":"quantitative","scale":{"type":"log","domain":[1,1000000],"range":[387,116],"nice":false},"axis":null}}},
 {"data":{"values":[{}]},"mark":{"type":"text","text":"- Region","font":"Liberation Sans","fontSize":15,"align":"left","baseline":"middle","color":"#222222"},
  "encoding":{"x":{"datum":8520,"type":"quantitative","scale":{"type":"log","domain":[1,1000000],"range":[561,906],"nice":false},"axis":null},
   "y":{"datum":238000,"type":"quantitative","scale":{"type":"log","domain":[1,1000000],"range":[387,116],"nice":false},"axis":null}}},
 {"data":{"values":[{}]},"mark":{"type":"point","shape":"M-1,-1L1,1M-1,1L1,-1","size":40,"filled":false,"strokeWidth":1.2,"color":"#1fa64b","opacity":1},
  "encoding":{"x":{"datum":180000,"type":"quantitative","scale":{"type":"log","domain":[1,1000000],"range":[561,906],"nice":false},"axis":null},
   "y":{"datum":238000,"type":"quantitative","scale":{"type":"log","domain":[1,1000000],"range":[387,116],"nice":false},"axis":null}}},
 {"data":{"values":[{}]},"mark":{"type":"text","text":"(b)","font":"Liberation Serif","fontSize":32,"align":"center","baseline":"middle","color":"#111111"},
  "encoding":{"x":{"datum":7.1,"type":"quantitative","scale":{"type":"log","domain":[1,1000000],"range":[561,906],"nice":false},"axis":null},
   "y":{"datum":12.1,"type":"quantitative","scale":{"type":"log","domain":[1,1000000],"range":[387,116],"nice":false},"axis":null}}},
 {"data":{"name":"c"},"mark":{"type":"point","shape":"diamond","size":32,"filled":false,"strokeWidth":1.3,"color":"#2ad6d6","opacity":1},
  "encoding":{
   "x":{"field":"x","type":"quantitative","scale":{"type":"log","domain":[1,10000],"range":[90,460],"nice":false},
    "axis":{"orient":"bottom","offset":-417,"values":[1,10,100,1000,10000],"labelExpr":"['10⁰','10¹','10²','10³','10⁴','10⁵'][round(log(datum.value)/LN10)]","labelFont":"Liberation Sans","labelFontSize":14,"labelColor":"#222222","labelPadding":8,"labelFlush":false,"labelOverlap":false,"tickSize":0,"domainColor":"#aaaaaa","domainDash":[1,14],"title":"Partners","titleFont":"Liberation Sans","titleFontWeight":"normal","titleFontSize":15,"titleColor":"#222222","titlePadding":0}},
   "y":{"field":"y","type":"quantitative","scale":{"type":"log","domain":[5.94e-8,0.1026],"range":[768,478],"nice":false},
    "axis":{"orient":"left","offset":-90,"values":[0.000001,0.0001,0.01],"labelExpr":"['10⁻⁷','10⁻⁶','10⁻⁵','10⁻⁴','10⁻³','10⁻²','10⁻¹','10⁰'][round(log(datum.value)/LN10)+7]","labelFont":"Liberation Sans","labelFontSize":14,"labelColor":"#222222","labelPadding":5,"labelFlush":false,"labelOverlap":false,"tickSize":0,"domainColor":"#8a8a8a","domainWidth":1.3,"title":"PDF","titleFont":"Liberation Sans","titleFontWeight":"normal","titleFontSize":15,"titleColor":"#222222","titlePadding":3}}
  }},
 {"data":{"name":"cfit"},"mark":{"type":"line","color":"#111111","strokeWidth":2},
  "encoding":{
   "x":{"field":"x","type":"quantitative","scale":{"type":"log","domain":[1,10000],"range":[90,460],"nice":false},"axis":null},
   "y":{"field":"y","type":"quantitative","scale":{"type":"log","domain":[5.94e-8,0.1026],"range":[768,478],"nice":false},"axis":null}}},
 {"data":{"values":[{}]},"mark":{"type":"rule","color":"#8a8a8a","strokeWidth":1.3},
  "encoding":{"x":{"datum":12.1,"type":"quantitative","scale":{"type":"log","domain":[1,10000],"range":[90,460],"nice":false},"axis":null},"x2":{"datum":10000},
   "y":{"datum":0.084,"type":"quantitative","scale":{"type":"log","domain":[5.94e-8,0.1026],"range":[768,478],"nice":false},"axis":null}}},
 {"data":{"values":[{}]},"mark":{"type":"rule","color":"#8a8a8a","strokeWidth":1.3},
  "encoding":{"x":{"datum":12.1,"type":"quantitative","scale":{"type":"log","domain":[1,10000],"range":[90,460],"nice":false},"axis":null},
   "y":{"datum":0.0141,"type":"quantitative","scale":{"type":"log","domain":[5.94e-8,0.1026],"range":[768,478],"nice":false},"axis":null},"y2":{"datum":0.084}}},
 {"data":{"values":[{}]},"mark":{"type":"point","shape":"diamond","size":32,"filled":false,"strokeWidth":1.3,"color":"#2ad6d6","opacity":1},
  "encoding":{"x":{"datum":21.5,"type":"quantitative","scale":{"type":"log","domain":[1,10000],"range":[90,460],"nice":false},"axis":null},
   "y":{"datum":0.0488,"type":"quantitative","scale":{"type":"log","domain":[5.94e-8,0.1026],"range":[768,478],"nice":false},"axis":null}}},
 {"data":{"values":[{}]},"mark":{"type":"rule","color":"#111111","strokeWidth":2},
  "encoding":{"x":{"datum":15.9,"type":"quantitative","scale":{"type":"log","domain":[1,10000],"range":[90,460],"nice":false},"axis":null},"x2":{"datum":29.7},
   "y":{"datum":0.021,"type":"quantitative","scale":{"type":"log","domain":[5.94e-8,0.1026],"range":[768,478],"nice":false},"axis":null}}},
 {"data":{"values":[{}]},"mark":{"type":"text","text":"Data","font":"Liberation Sans","fontSize":15,"align":"left","baseline":"middle","color":"#111111"},
  "encoding":{"x":{"datum":37.2,"type":"quantitative","scale":{"type":"log","domain":[1,10000],"range":[90,460],"nice":false},"axis":null},
   "y":{"datum":0.0488,"type":"quantitative","scale":{"type":"log","domain":[5.94e-8,0.1026],"range":[768,478],"nice":false},"axis":null}}},
 {"data":{"values":[{}]},"mark":{"type":"text","text":"Fitted DPLN[2.8, 0.01, 0.35, 3.8]","font":"Liberation Sans","fontSize":15,"align":"left","baseline":"middle","color":"#111111"},
  "encoding":{"x":{"datum":37.2,"type":"quantitative","scale":{"type":"log","domain":[1,10000],"range":[90,460],"nice":false},"axis":null},
   "y":{"datum":0.021,"type":"quantitative","scale":{"type":"log","domain":[5.94e-8,0.1026],"range":[768,478],"nice":false},"axis":null}}},
 {"data":{"values":[{}]},"mark":{"type":"text","text":"(c)","font":"Liberation Serif","fontSize":32,"align":"center","baseline":"middle","color":"#111111"},
  "encoding":{"x":{"datum":3.15,"type":"quantitative","scale":{"type":"log","domain":[1,10000],"range":[90,460],"nice":false},"axis":null},
   "y":{"datum":0.00000082,"type":"quantitative","scale":{"type":"log","domain":[5.94e-8,0.1026],"range":[768,478],"nice":false},"axis":null}}},
 {"data":{"name":"d"},"transform":[{"filter":"datum.s == 'all'"}],"mark":{"type":"circle","size":18,"color":"#8c8c8c","opacity":1},
  "encoding":{
   "x":{"field":"x","type":"quantitative","scale":{"type":"log","domain":[1,100000],"range":[568,894],"nice":false},
    "axis":{"orient":"bottom","offset":-427,"values":[1,10,100,1000,10000,100000],"labelExpr":"['10⁰','10¹','10²','10³','10⁴','10⁵'][round(log(datum.value)/LN10)]","labelFont":"Liberation Sans","labelFontSize":14,"labelColor":"#222222","labelPadding":7,"labelFlush":false,"labelOverlap":false,"tickSize":0,"domainColor":"#8a8a8a","domainWidth":1.5,"title":"k","titleFont":"Liberation Serif","titleFontStyle":"italic","titleFontWeight":"normal","titleFontSize":20,"titleColor":"#222222","titlePadding":12}},
   "y":{"field":"y","type":"quantitative","scale":{"type":"log","domain":[0.0000001,1],"range":[758,468],"nice":false},
    "axis":{"orient":"left","offset":-568,"values":[0.0000001,0.000001,0.00001,0.0001,0.001,0.01,0.1,1],"labelExpr":"['10⁻⁷','10⁻⁶','10⁻⁵','10⁻⁴','10⁻³','10⁻²','10⁻¹','10⁰'][round(log(datum.value)/LN10)+7]","labelFont":"Liberation Sans","labelFontSize":14,"labelColor":"#222222","labelPadding":5,"labelFlush":false,"labelOverlap":false,"tickSize":0,"domainColor":"#8a8a8a","domainWidth":1.5,"title":"P>ⁿᵉᵗ(k)","titleFont":"Liberation Serif","titleFontStyle":"italic","titleFontWeight":"normal","titleFontSize":20,"titleColor":"#222222","titlePadding":14}}
  }},
 {"data":{"name":"d"},"transform":[{"filter":"datum.s == 'reciprocal'"}],"mark":{"type":"circle","size":18,"color":"#111111","opacity":1},
  "encoding":{
   "x":{"field":"x","type":"quantitative","scale":{"type":"log","domain":[1,100000],"range":[568,894],"nice":false},"axis":null},
   "y":{"field":"y","type":"quantitative","scale":{"type":"log","domain":[0.0000001,1],"range":[758,468],"nice":false},"axis":null}}},
 {"data":{"values":[{}]},"mark":{"type":"rule","color":"#8a8a8a","strokeWidth":1.5},
  "encoding":{"x":{"datum":1,"type":"quantitative","scale":{"type":"log","domain":[1,100000],"range":[568,894],"nice":false},"axis":null},"x2":{"datum":100000},
   "y":{"datum":1,"type":"quantitative","scale":{"type":"log","domain":[0.0000001,1],"range":[758,468],"nice":false},"axis":null}}},
 {"data":{"values":[{}]},"mark":{"type":"rule","color":"#8a8a8a","strokeWidth":1.5},
  "encoding":{"x":{"datum":100000,"type":"quantitative","scale":{"type":"log","domain":[1,100000],"range":[568,894],"nice":false},"axis":null},
   "y":{"datum":0.0000001,"type":"quantitative","scale":{"type":"log","domain":[0.0000001,1],"range":[758,468],"nice":false},"axis":null},"y2":{"datum":1}}},
 {"data":{"values":[{}]},"mark":{"type":"text","text":"(d)","font":"Liberation Serif","fontSize":32,"align":"center","baseline":"middle","color":"#111111"},
  "encoding":{"x":{"datum":4.45,"type":"quantitative","scale":{"type":"log","domain":[1,100000],"range":[568,894],"nice":false},"axis":null},
   "y":{"datum":0.00000063,"type":"quantitative","scale":{"type":"log","domain":[0.0000001,1],"range":[758,468],"nice":false},"axis":null}}},
 {"data":{"name":"caption"},"transform":[{"filter":"datum.role == 'body'"}],"mark":{"type":"text","align":"left","baseline":"middle","font":"Liberation Sans","fontSize":18,"color":"#231f20"},
  "encoding":{"x":{"field":"seg","type":"quantitative","scale":{"type":"linear","domain":[0,1,2,3,4,5,6,7,8,9,10,11,12,13,14,15,16,17,18,19,20,21,22,23,24,25,26],"range":[14,506.1,14,14,14,41,122,161,14,14,567.3,595.3,715.4,754.4,14,14,14,14,94.1,121.1,227.1,266.1,14,14,14,383.3,411.2],"zero":false,"nice":false},"axis":null},
   "y":{"field":"line","type":"quantitative","scale":{"type":"linear","domain":[1,13],"range":[848,1162],"zero":false,"nice":false},"axis":null},
   "text":{"field":"text","type":"nominal"}}},
 {"data":{"name":"caption"},"transform":[{"filter":"datum.role == 'head' || datum.role == 'tag'"}],"mark":{"type":"text","align":"left","baseline":"middle","font":"Liberation Sans","fontWeight":"bold","fontSize":18,"color":"#231f20"},
  "encoding":{"x":{"field":"seg","type":"quantitative","scale":{"type":"linear","domain":[0,1,2,3,4,5,6,7,8,9,10,11,12,13,14,15,16,17,18,19,20,21,22,23,24,25,26],"range":[14,506.1,14,14,14,41,122,161,14,14,567.3,595.3,715.4,754.4,14,14,14,14,94.1,121.1,227.1,266.1,14,14,14,383.3,411.2],"zero":false,"nice":false},"axis":null},
   "y":{"field":"line","type":"quantitative","scale":{"type":"linear","domain":[1,13],"range":[848,1162],"zero":false,"nice":false},"axis":null},
   "text":{"field":"text","type":"nominal"}}},
 {"data":{"name":"caption"},"transform":[{"filter":"datum.role == 'etal'"}],"mark":{"type":"text","align":"left","baseline":"middle","font":"Liberation Sans","fontStyle":"italic","fontSize":18,"color":"#231f20"},
  "encoding":{"x":{"field":"seg","type":"quantitative","scale":{"type":"linear","domain":[0,1,2,3,4,5,6,7,8,9,10,11,12,13,14,15,16,17,18,19,20,21,22,23,24,25,26],"range":[14,506.1,14,14,14,41,122,161,14,14,567.3,595.3,715.4,754.4,14,14,14,14,94.1,121.1,227.1,266.1,14,14,14,383.3,411.2],"zero":false,"nice":false},"axis":null},
   "y":{"field":"line","type":"quantitative","scale":{"type":"linear","domain":[1,13],"range":[848,1162],"zero":false,"nice":false},"axis":null},
   "text":{"field":"text","type":"nominal"}}}
]
}
